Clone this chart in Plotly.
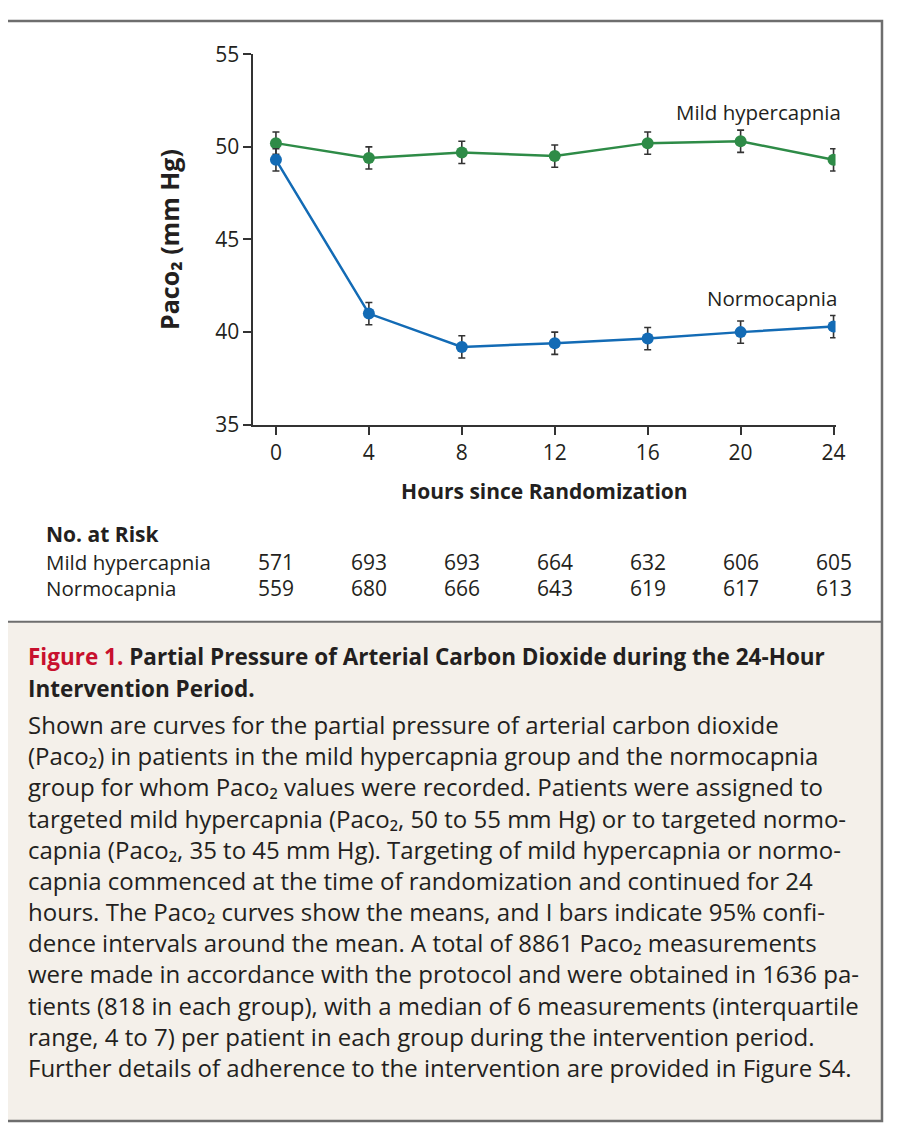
import plotly.graph_objects as go

# page-space mapping: figure sits inside the page body (8px default margin)
OFF = 8
W, H = 899 - 2 * OFF, 1143 - 2 * OFF

hours = [0, 4, 8, 12, 16, 20, 24]
mild_mean = [50.2, 49.4, 49.7, 49.5, 50.2, 50.3, 49.3]
mild_ci = [0.6, 0.6, 0.6, 0.6, 0.6, 0.6, 0.6]
normo_mean = [49.3, 41.0, 39.2, 39.4, 39.65, 40.0, 40.3]
normo_ci = [0.6, 0.6, 0.6, 0.6, 0.6, 0.6, 0.6]
y_ticks = [35, 40, 45, 50, 55]
x_ticks = [0, 4, 8, 12, 16, 20, 24]
at_risk_mild = [571, 693, 693, 664, 632, 606, 605]
at_risk_normo = [559, 680, 666, 643, 619, 617, 613]
group_names = ["Mild hypercapnia", "Normocapnia"]

GREEN = "#2E8B47"
BLUE = "#136BB5"
TXT = "#231F20"
FONT = "Open Sans"

title_lines = [
    "<span style='color:#C8102E'>Figure 1.</span> Partial Pressure of Arterial Carbon Dioxide during the 24-Hour",
    "Intervention Period.",
]
body_lines = [
    "Shown are curves for the partial pressure of arterial carbon dioxide",
    "(Paco₂) in patients in the mild hypercapnia group and the normocapnia",
    "group for whom Paco₂ values were recorded. Patients were assigned to",
    "targeted mild hypercapnia (Paco₂, 50 to 55 mm Hg) or to targeted normo-",
    "capnia (Paco₂, 35 to 45 mm Hg). Targeting of mild hypercapnia or normo-",
    "capnia commenced at the time of randomization and continued for 24",
    "hours. The Paco₂ curves show the means, and I bars indicate 95% confi-",
    "dence intervals around the mean. A total of 8861 Paco₂ measurements",
    "were made in accordance with the protocol and were obtained in 1636 pa-",
    "tients (818 in each group), with a median of 6 measurements (interquartile",
    "range, 4 to 7) per patient in each group during the intervention period.",
    "Further details of adherence to the intervention are provided in Figure S4.",
]


def px(x):
    return (x - OFF) / W


def py(y):
    return 1 - (y - OFF) / H


fig = go.Figure()
err_style = dict(type="data", visible=True, color="#333333", thickness=1.6, width=3.5)
fig.add_trace(go.Scatter(
    x=hours, y=mild_mean, mode="lines+markers", name=group_names[0],
    line=dict(color=GREEN, width=2.5), marker=dict(color=GREEN, size=12),
    error_y=dict(array=mild_ci, **err_style), showlegend=False,
))
fig.add_trace(go.Scatter(
    x=hours, y=normo_mean, mode="lines+markers", name=group_names[1],
    line=dict(color=BLUE, width=2.5), marker=dict(color=BLUE, size=12),
    error_y=dict(array=normo_ci, **err_style), showlegend=False,
))

shapes = [
    dict(type="rect", xref="paper", yref="paper", x0=px(6), x1=px(892), y0=py(1134), y1=py(622),
         fillcolor="#F4F0EA", line=dict(width=0), layer="below"),
    dict(type="line", xref="paper", yref="paper", x0=px(6), x1=px(892), y0=py(622), y1=py(622),
         line=dict(color="#6E6E6E", width=2)),
    dict(type="rect", xref="paper", yref="paper", x0=px(6), x1=px(892), y0=py(1134), y1=py(6),
         line=dict(color="#6E6E6E", width=2.5)),
]

ann = []
ann.append(dict(text=group_names[0], x=px(853), y=py(99), xref="paper", yref="paper", xanchor="right",
                yanchor="middle", showarrow=False, font=dict(size=20.5, color=TXT, family=FONT)))
ann.append(dict(text=group_names[1], x=px(849), y=py(290), xref="paper", yref="paper", xanchor="right",
                yanchor="middle", showarrow=False, font=dict(size=20.5, color=TXT, family=FONT)))

ann.append(dict(text="<b>No. at Risk</b>", x=px(44), y=py(532), xref="paper", yref="paper",
                xanchor="left", yanchor="middle", showarrow=False,
                font=dict(size=21, color=TXT, family=FONT)))
for name, vals, yy in [(group_names[0], at_risk_mild, 561), (group_names[1], at_risk_normo, 587)]:
    ann.append(dict(text=name, x=px(44), y=py(yy), xref="paper", yref="paper", xanchor="left",
                    yanchor="middle", showarrow=False, font=dict(size=20.5, color=TXT, family=FONT)))
    for h, v in zip(hours, vals):
        ann.append(dict(text=str(v), x=h, y=py(yy), xref="x", yref="paper", xanchor="center",
                        yanchor="middle", showarrow=False, font=dict(size=21, color=TXT, family=FONT)))

for i, line in enumerate(title_lines):
    yy = 658 + 32 * i
    ann.append(dict(text="<b>" + line + "</b>", x=px(26), y=py(yy), xref="paper", yref="paper",
                    xanchor="left", yanchor="middle", showarrow=False,
                    font=dict(size=22.5, color=TXT, family=FONT)))

# body text in two blocks of six lines each
for b in range(2):
    block = body_lines[6 * b: 6 * b + 6]
    first = 727 + 32 * 6 * b
    centre = first + 32 * (len(block) - 1) / 2
    ann.append(dict(text="<br>".join(block), x=px(26), y=py(centre), xref="paper", yref="paper",
                    xanchor="left", yanchor="middle", align="left", showarrow=False,
                    font=dict(size=24, color=TXT, family=FONT)))

fig.update_layout(
    width=W, height=H, margin=dict(l=0, r=0, t=0, b=0),
    paper_bgcolor="white", plot_bgcolor="white",
    shapes=shapes, annotations=ann,
    font=dict(family=FONT, color=TXT),
    xaxis=dict(domain=[px(256), px(845)], range=[-0.979, 24.085], tickvals=x_ticks,
               ticks="outside", ticklen=8, tickwidth=1.5, tickcolor="#333",
               showline=True, linecolor="#333", linewidth=1.5, showgrid=False, zeroline=False,
               tickfont=dict(size=21, color=TXT, family=FONT),
               title=dict(text="<b>Hours since Randomization</b>", font=dict(size=21, color=TXT, family=FONT),
                          standoff=20)),
    yaxis=dict(domain=[py(420), py(40)], range=[35, 55], tickvals=y_ticks,
               ticks="outside", ticklen=8, tickwidth=1.5, tickcolor="#333",
               showline=True, linecolor="#333", linewidth=1.5, showgrid=False, zeroline=False,
               tickfont=dict(size=21, color=TXT, family=FONT),
               title=dict(text="<b>Paco₂ (mm Hg)</b>", font=dict(size=25, color=TXT, family=FONT),
                          standoff=28)),
)

fig.write_html("out.html")
